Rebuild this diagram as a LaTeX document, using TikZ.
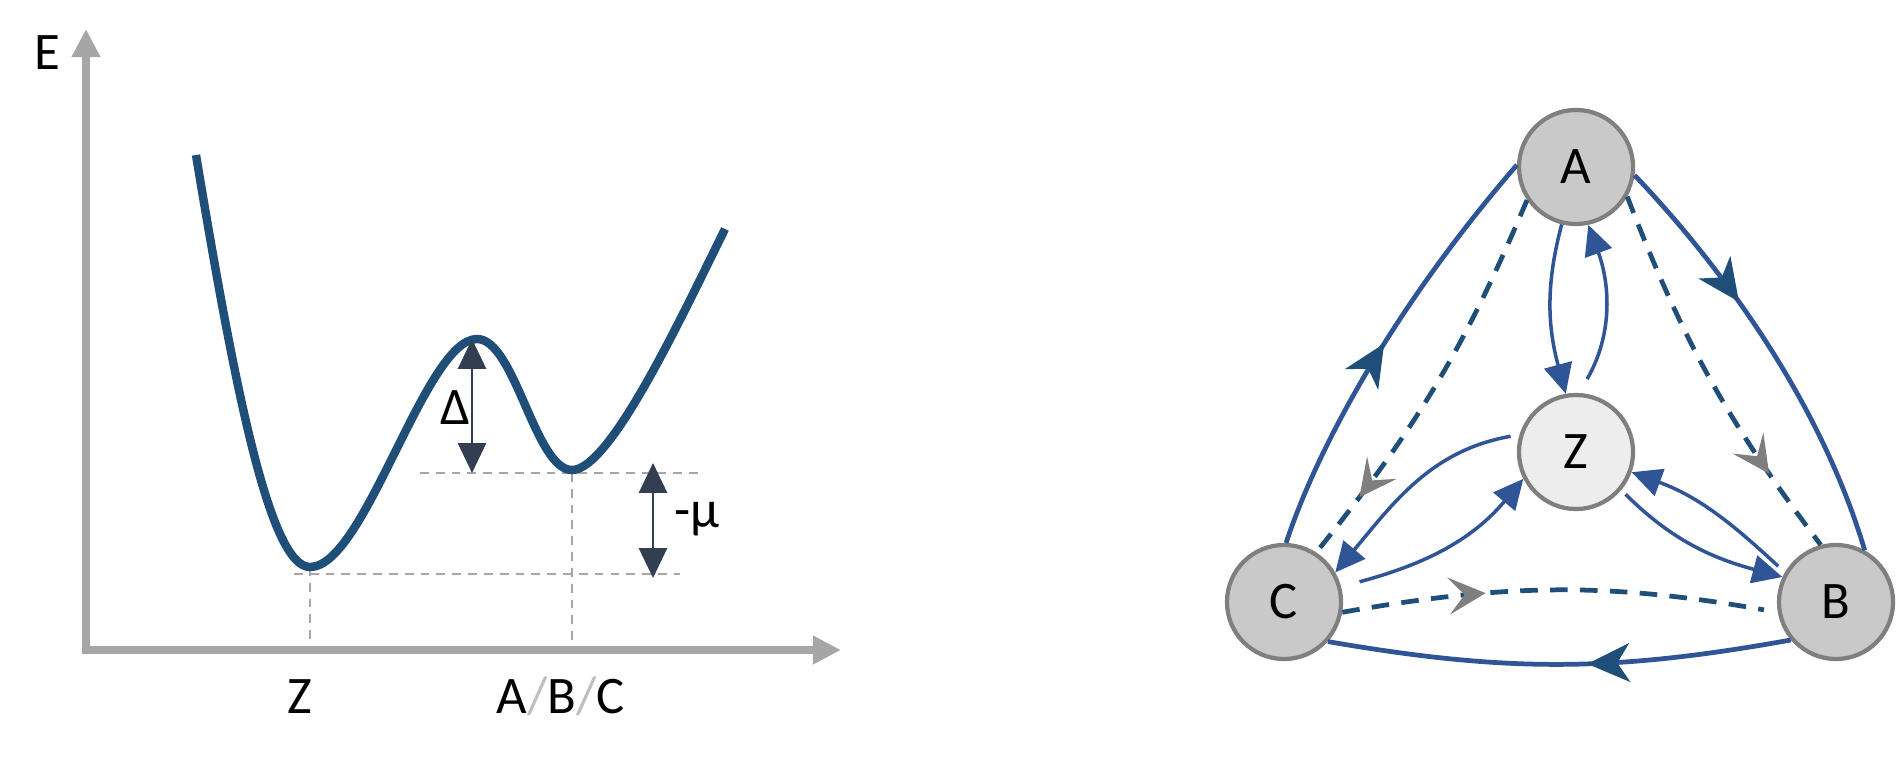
\documentclass[tikz,border=0pt]{standalone}
\usepackage{fontspec}
\setmainfont{Carlito}
\usetikzlibrary{arrows.meta,decorations.markings}
\definecolor{bmain}{HTML}{2F5597}
\definecolor{bdark}{HTML}{1F4E79}
\definecolor{axisgray}{HTML}{A6A6A6}
\definecolor{ringgray}{HTML}{7F7F7F}
\definecolor{nodefill}{HTML}{C9C9C9}
\definecolor{zfill}{HTML}{EDEDED}
\definecolor{slate}{HTML}{333F50}
\definecolor{slashgray}{HTML}{BFBFBF}
\begin{document}
\begin{tikzpicture}[x=0.01cm,y=-0.01cm,
  lbl/.style={font=\fontsize{15}{18}\selectfont, inner sep=0pt, anchor=base},
  gnode/.style={circle, draw=ringgray, line width=1.2pt, minimum size=1.14cm, inner sep=0pt, font=\fontsize{15}{18}\selectfont},
  axisline/.style={axisgray, line width=2.1pt, {Triangle[length=8pt,width=7.7pt]}-{Triangle[length=8pt,width=7.7pt]}},
  guide/.style={axisgray, line width=0.6pt, dash pattern=on 2.5pt off 2pt},
  tedge/.style={bmain, line width=1pt, -{Triangle[length=8.5pt,width=8pt]}},
  outedge/.style={bmain, line width=1.35pt, postaction={decorate}},
  dashedge/.style={bdark, line width=1.35pt, dash pattern=on 5pt off 3.5pt, postaction={decorate}},
  midarrow/.style={decoration={markings, mark=at position #1 with {\arrow{Stealth[length=12pt,width=11pt,inset=3.5pt,bdark]}}}},
  grayarrow/.style={decoration={markings, mark=at position #1 with {\arrow{Stealth[length=10.5pt,width=10.5pt,inset=4.5pt,ringgray]}}}},
  delta/.style={slate, line width=0.6pt, {Triangle[length=8.5pt,width=8pt]}-{Triangle[length=8.5pt,width=8pt]}}
]
\useasboundingbox (0,0) rectangle (1898,770);

% ---- left: energy landscape ----
\draw[guide] (310,567) -- (310,650);
\draw[guide] (294,574) -- (680,574);
\draw[guide] (420,473) -- (702,473);
\draw[guide] (572,473) -- (572,650);
\draw[axisline] (86,29) -- (86,650) -- (841,650);
\draw[bdark, line width=2.4pt] (196,155) .. controls (235,390) and (270,567) .. (310,567)
  .. controls (365,567) and (425,339) .. (477,339)
  .. controls (515,339) and (535,470) .. (572,470)
  .. controls (610,470) and (680,320) .. (725,229);
\draw[delta] (472,339) -- (472,473);
\draw[delta] (653,463) -- (653,578);
\node[lbl] (E) at (47,70) {E};
\node[lbl] (D) at (455,424) {Δ};
\node[lbl] (mu) at (697,527) {-μ};
\node[lbl] (zl) at (300,713) {Z};
\node[lbl] (abc) at (561,713) {A\textcolor{slashgray}{/}B\textcolor{slashgray}{/}C};

% ---- right: transition graph ----
\node[gnode, fill=nodefill] (A) at (1576,167) {A};
\node[gnode, fill=zfill] (Z) at (1576,452) {Z};
\node[gnode, fill=nodefill] (C) at (1284,602) {C};
\node[gnode, fill=nodefill] (B) at (1836,602) {B};

\draw[outedge, midarrow=0.5] (C.88) .. controls (1320,440) and (1400,300) .. (A.178);
\draw[outedge, midarrow=0.37] (A.-8) .. controls (1720,265) and (1820,400) .. (B.61);
\draw[dashedge, grayarrow=0.83] (A.214) to[bend left=8] (C.57);
\draw[dashedge, grayarrow=0.78] (A.-30) to[bend right=8] (B.105);
\draw[dashedge, grayarrow=0.33, shorten >=0.14cm] (C.-10) to[bend left=10] (B.190);
\draw[outedge, midarrow=0.44] (B.220) to[bend left=10] (C.318);

\draw[tedge] (A.256) to[out=255, in=105] (Z.100);
\draw[tedge, shorten <=0.16cm] (Z.87) to[out=60, in=-70] (A.282);
\draw[tedge, shorten <=0.09cm] (Z.163) to[out=190, in=50] (C.30);
\draw[tedge, shorten <=0.19cm] (C.15) to[out=15, in=230] (Z.207);
\draw[tedge, shorten <=0.06cm] (Z.320) to[out=-45, in=165] (B.155);
\draw[tedge, shorten <=0.09cm] (B.150) to[out=137, in=-20] (Z.340);
\end{tikzpicture}
\end{document}
